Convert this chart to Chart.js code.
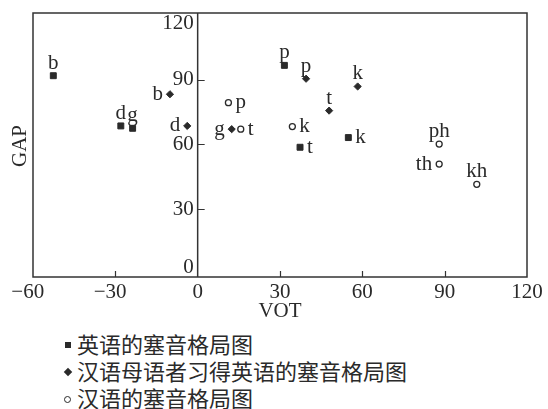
<!DOCTYPE html>
<html>
<head>
<meta charset="utf-8">
<script src="https://cdn.jsdelivr.net/npm/chart.js@4.4.1/dist/chart.umd.min.js"></script>
<style>
  html, body { margin: 0; padding: 0; background: #fff; }
  #wrap { position: relative; width: 548px; height: 409px; overflow: hidden; }
  #box { position: absolute; left: 0; top: 0; width: 548px; height: 325px; }
  .row { position: absolute; left: 63px; height: 26px; line-height: 26px; white-space: nowrap;
         font-family: "Noto Sans CJK SC", sans-serif; font-size: 22px; color: #2a2a2a; }
  .mk { display: inline-block; vertical-align: middle; margin-right: 5px; position: relative; top: -2px; }
  .mk.sq { width: 6px; height: 6px; background: #2a2a2a; margin-left: 2px; margin-right: 6px; }
  .mk.di { width: 6px; height: 6px; background: #2a2a2a; transform: rotate(45deg); margin-left: 2px; margin-right: 6px; }
  .mk.ci { width: 5px; height: 5px; border: 1.4px solid #2a2a2a; border-radius: 50%; margin-left: 1px; margin-right: 6px; }
</style>
</head>
<body>
<div id="wrap">
  <div id="box"><canvas id="c"></canvas></div>
  <div id="legend"></div>
</div>
<script>
// English stops
const enVot = [-52.6, -28, -23.7, 31.6, 37.3, 54.9];
const enGap = [91.9, 68.6, 67.5, 96.7, 58.7, 63.2];
const enLabels = ['b', 'd', 'g', 'p', 't', 'k'];

// English stops produced by Chinese native speakers
const lrVot = [-10.1, -3.8, 12.4, 39.5, 47.9, 58.3];
const lrGap = [83.3, 68.6, 67.1, 90.5, 75.7, 86.9];
const lrLabels = ['b', 'd', 'g', 'p', 't', 'k'];

// Chinese stops
const cnVot = [11.2, 15.7, 34.5, 88, 88, 101.7];
const cnGap = [79.4, 67.1, 68.3, 60.2, 50.9, 41.5];
const cnLabels = ['p', 't', 'k', 'ph', 'th', 'kh'];

const seriesNames = ['英语的塞音格局图', '汉语母语者习得英语的塞音格局图', '汉语的塞音格局图'];
const xTicks = [-60, -30, 0, 30, 60, 90, 120];
const yTicks = [0, 30, 60, 90, 120];

const ink = '#2a2a2a';
const serif = '"Liberation Serif", "DejaVu Serif", serif';

// where each point label sits relative to its marker
const labelSide = [
  ['top', 'top', 'top', 'top', 'right', 'right'],
  ['left', 'left', 'left', 'top', 'top', 'top'],
  ['right', 'right', 'right', 'top', 'left', 'top']
];
const pointLabels = [enLabels, lrLabels, cnLabels];

const pts = (xs, ys) => xs.map((v, i) => ({x: v, y: ys[i]}));

// frame, zero axis, inner ticks, y labels
const frame = {
  id: 'frame',
  beforeDatasetsDraw(chart) {
    const {ctx, chartArea: a, scales: {x, y}} = chart;
    ctx.save();
    ctx.strokeStyle = '#333';
    ctx.lineWidth = 1.5;
    ctx.strokeRect(a.left, a.top, a.right - a.left, a.bottom - a.top);
    const x0 = x.getPixelForValue(0);
    ctx.beginPath();
    ctx.moveTo(x0, a.top); ctx.lineTo(x0, a.bottom);
    ctx.stroke();

    ctx.lineWidth = 1.2;
    ctx.beginPath();
    xTicks.forEach(v => {
      if (v === 0 || v <= x.min || v >= x.max) return;
      const px = Math.round(x.getPixelForValue(v)) + 0.5;
      ctx.moveTo(px, a.bottom); ctx.lineTo(px, a.bottom - 6);
    });
    yTicks.forEach(v => {
      if (v === 0 || v === 120) return;
      const py = Math.round(y.getPixelForValue(v)) + 0.5;
      ctx.moveTo(x0, py); ctx.lineTo(x0 + 7, py);
    });
    ctx.stroke();

    ctx.fillStyle = ink;
    ctx.font = '21px ' + serif;
    ctx.textAlign = 'right';
    ctx.textBaseline = 'middle';
    yTicks.forEach(v => {
      let py = y.getPixelForValue(v);
      py = Math.min(Math.max(py, a.top + 10), a.bottom - 10);
      ctx.fillText(String(v), x0 - 4, py);
    });

    // y title
    ctx.translate(20, 146);
    ctx.rotate(-Math.PI / 2);
    ctx.textAlign = 'center';
    ctx.fillText('GAP', 0, 0);
    ctx.restore();
  },
  afterDatasetsDraw(chart) {
    const {ctx} = chart;
    ctx.save();
    ctx.fillStyle = ink;
    ctx.font = '21px ' + serif;
    chart.data.datasets.forEach((ds, di) => {
      chart.getDatasetMeta(di).data.forEach((el, i) => {
        const side = labelSide[di][i];
        const txt = pointLabels[di][i];
        if (side === 'top') {
          ctx.textAlign = 'center'; ctx.textBaseline = 'alphabetic';
          ctx.fillText(txt, el.x, el.y - 7);
        } else if (side === 'left') {
          ctx.textAlign = 'right'; ctx.textBaseline = 'middle';
          ctx.fillText(txt, el.x - 7, el.y);
        } else {
          ctx.textAlign = 'left'; ctx.textBaseline = 'middle';
          ctx.fillText(txt, el.x + 7, el.y);
        }
      });
    });
    ctx.restore();
  }
};

new Chart(document.getElementById('c'), {
  type: 'scatter',
  data: {
    datasets: [
      { label: seriesNames[0], data: pts(enVot, enGap), pointStyle: 'rect', radius: 4.2,
        backgroundColor: ink, borderColor: ink, borderWidth: 1 },
      { label: seriesNames[1], data: pts(lrVot, lrGap), pointStyle: 'rectRot', radius: 3.6,
        backgroundColor: ink, borderColor: ink, borderWidth: 1 },
      { label: seriesNames[2], data: pts(cnVot, cnGap), pointStyle: 'circle', radius: 3,
        backgroundColor: '#fff', borderColor: ink, borderWidth: 1.3 }
    ]
  },
  options: {
    animation: false,
    responsive: true,
    maintainAspectRatio: false,
    layout: { padding: { top: 13, left: 33, right: 21, bottom: 0 } },
    plugins: { legend: { display: false }, tooltip: { enabled: false } },
    scales: {
      x: {
        type: 'linear', min: -60, max: 120,
        afterBuildTicks: s => { s.ticks = xTicks.map(v => ({value: v})); },
        afterFit: s => { s.height = 48; },
        grid: { display: false, drawTicks: false },
        border: { display: false },
        ticks: {
          padding: 3,
          color: ink,
          font: { family: serif, size: 21 },
          maxRotation: 0,
          callback: v => v < 0 ? '\u2212' + Math.abs(v) + '\u2002' : String(v)
        },
        title: { display: true, text: 'VOT', color: ink, font: { family: serif, size: 21 },
                 padding: { top: 0, bottom: 1 } }
      },
      y: {
        type: 'linear', min: -1.5, max: 121,
        display: false
      }
    }
  },
  plugins: [frame]
});

// legend below the chart
const markers = ['sq', 'di', 'ci'];
const rowCenters = [343, 370, 397];
const legend = document.getElementById('legend');
seriesNames.forEach((name, i) => {
  const row = document.createElement('div');
  row.className = 'row';
  row.style.top = (rowCenters[i] - 13) + 'px';
  row.innerHTML = `<span class="mk ${markers[i]}"></span>${name}`;
  legend.appendChild(row);
});
</script>
</body>
</html>
